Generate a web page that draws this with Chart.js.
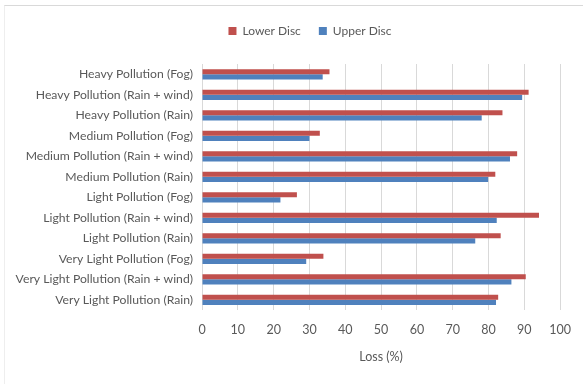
<!DOCTYPE html>
<html><head><meta charset="utf-8">
<script src="https://cdn.jsdelivr.net/npm/chart.js@4/dist/chart.umd.min.js"></script>
<style>
html,body{margin:0;padding:0;background:#fff;}
#wrap{position:absolute;left:4px;top:5px;width:579px;height:379px;border-top:1px solid #d9d9d9;border-left:1px solid #eeeeee;box-sizing:border-box;}
</style></head><body>
<div id="wrap"></div>
<canvas id="c" width="583" height="384" style="position:absolute;left:0;top:0;width:583px;height:384px"></canvas>
<script>
const categories = [
  "Heavy Pollution (Fog)",
  "Heavy Pollution (Rain + wind)",
  "Heavy Pollution (Rain)",
  "Medium Pollution (Fog)",
  "Medium Pollution (Rain + wind)",
  "Medium Pollution (Rain)",
  "Light Pollution (Fog)",
  "Light Pollution (Rain + wind)",
  "Light Pollution (Rain)",
  "Very Light Pollution (Fog)",
  "Very Light Pollution (Rain + wind)",
  "Very Light Pollution (Rain)"
];
const lowerDisc = [35.6, 91.2, 83.9, 32.9, 88.0, 81.9, 26.5, 94.1, 83.4, 33.9, 90.4, 82.7];
const upperDisc = [33.7, 89.4, 78.1, 30.0, 86.0, 79.9, 21.9, 82.3, 76.3, 29.1, 86.4, 82.1];
const xTicks = [0,10,20,30,40,50,60,70,80,90,100];

const FONT = "Lato";
const TXT = "#595959";
const legendTweak = {
  id: 'legendTweak',
  beforeInit(chart) {
    const orig = chart.legend.fit;
    chart.legend.fit = function() { orig.bind(chart.legend)(); this.height += 17; };
  },
  afterLayout(chart) {
    chart.legend.left += 26; chart.legend.right += 26;
  }
};
new Chart(document.getElementById('c'), {
  type: 'bar',
  data: {
    labels: categories,
    datasets: [
      {label: 'Lower Disc', data: lowerDisc, backgroundColor: '#C0504D', borderWidth: 0},
      {label: 'Upper Disc', data: upperDisc, backgroundColor: '#4F81BD', borderWidth: 0}
    ]
  },
  plugins: [legendTweak],
  options: {
    indexAxis: 'y',
    responsive: false,
    animation: false,
    devicePixelRatio: 1,
    categoryPercentage: 0.5,
    barPercentage: 1.0,
    layout: {padding: {left: 6, right: 21, top: 7, bottom: 16}},
    plugins: {
      tooltip: {enabled: false},
      legend: {
        position: 'top',
        labels: {
          boxWidth: 8, boxHeight: 8, color: TXT, padding: 18,
          font: {family: FONT, size: 12}
        }
      }
    },
    scales: {
      x: {
        min: 0, max: 100,
        afterBuildTicks: (s) => { s.ticks = xTicks.map(v => ({value: v})); },
        grid: {color: '#d9d9d9', drawTicks: false, lineWidth: 1},
        border: {display: false},
        ticks: {color: TXT, font: {family: FONT, size: 12.5}, padding: 12},
        title: {display: true, text: 'Loss (%)', color: TXT, font: {family: FONT, size: 12.5}, padding: {top: 0}}
      },
      y: {
        grid: {display: false},
        border: {display: false},
        ticks: {color: TXT, font: {family: FONT, size: 12.2}, padding: 1, autoSkip: false},
        afterFit: (s) => { s.width = 196; }
      }
    }
  }
});
</script>
</body></html>
